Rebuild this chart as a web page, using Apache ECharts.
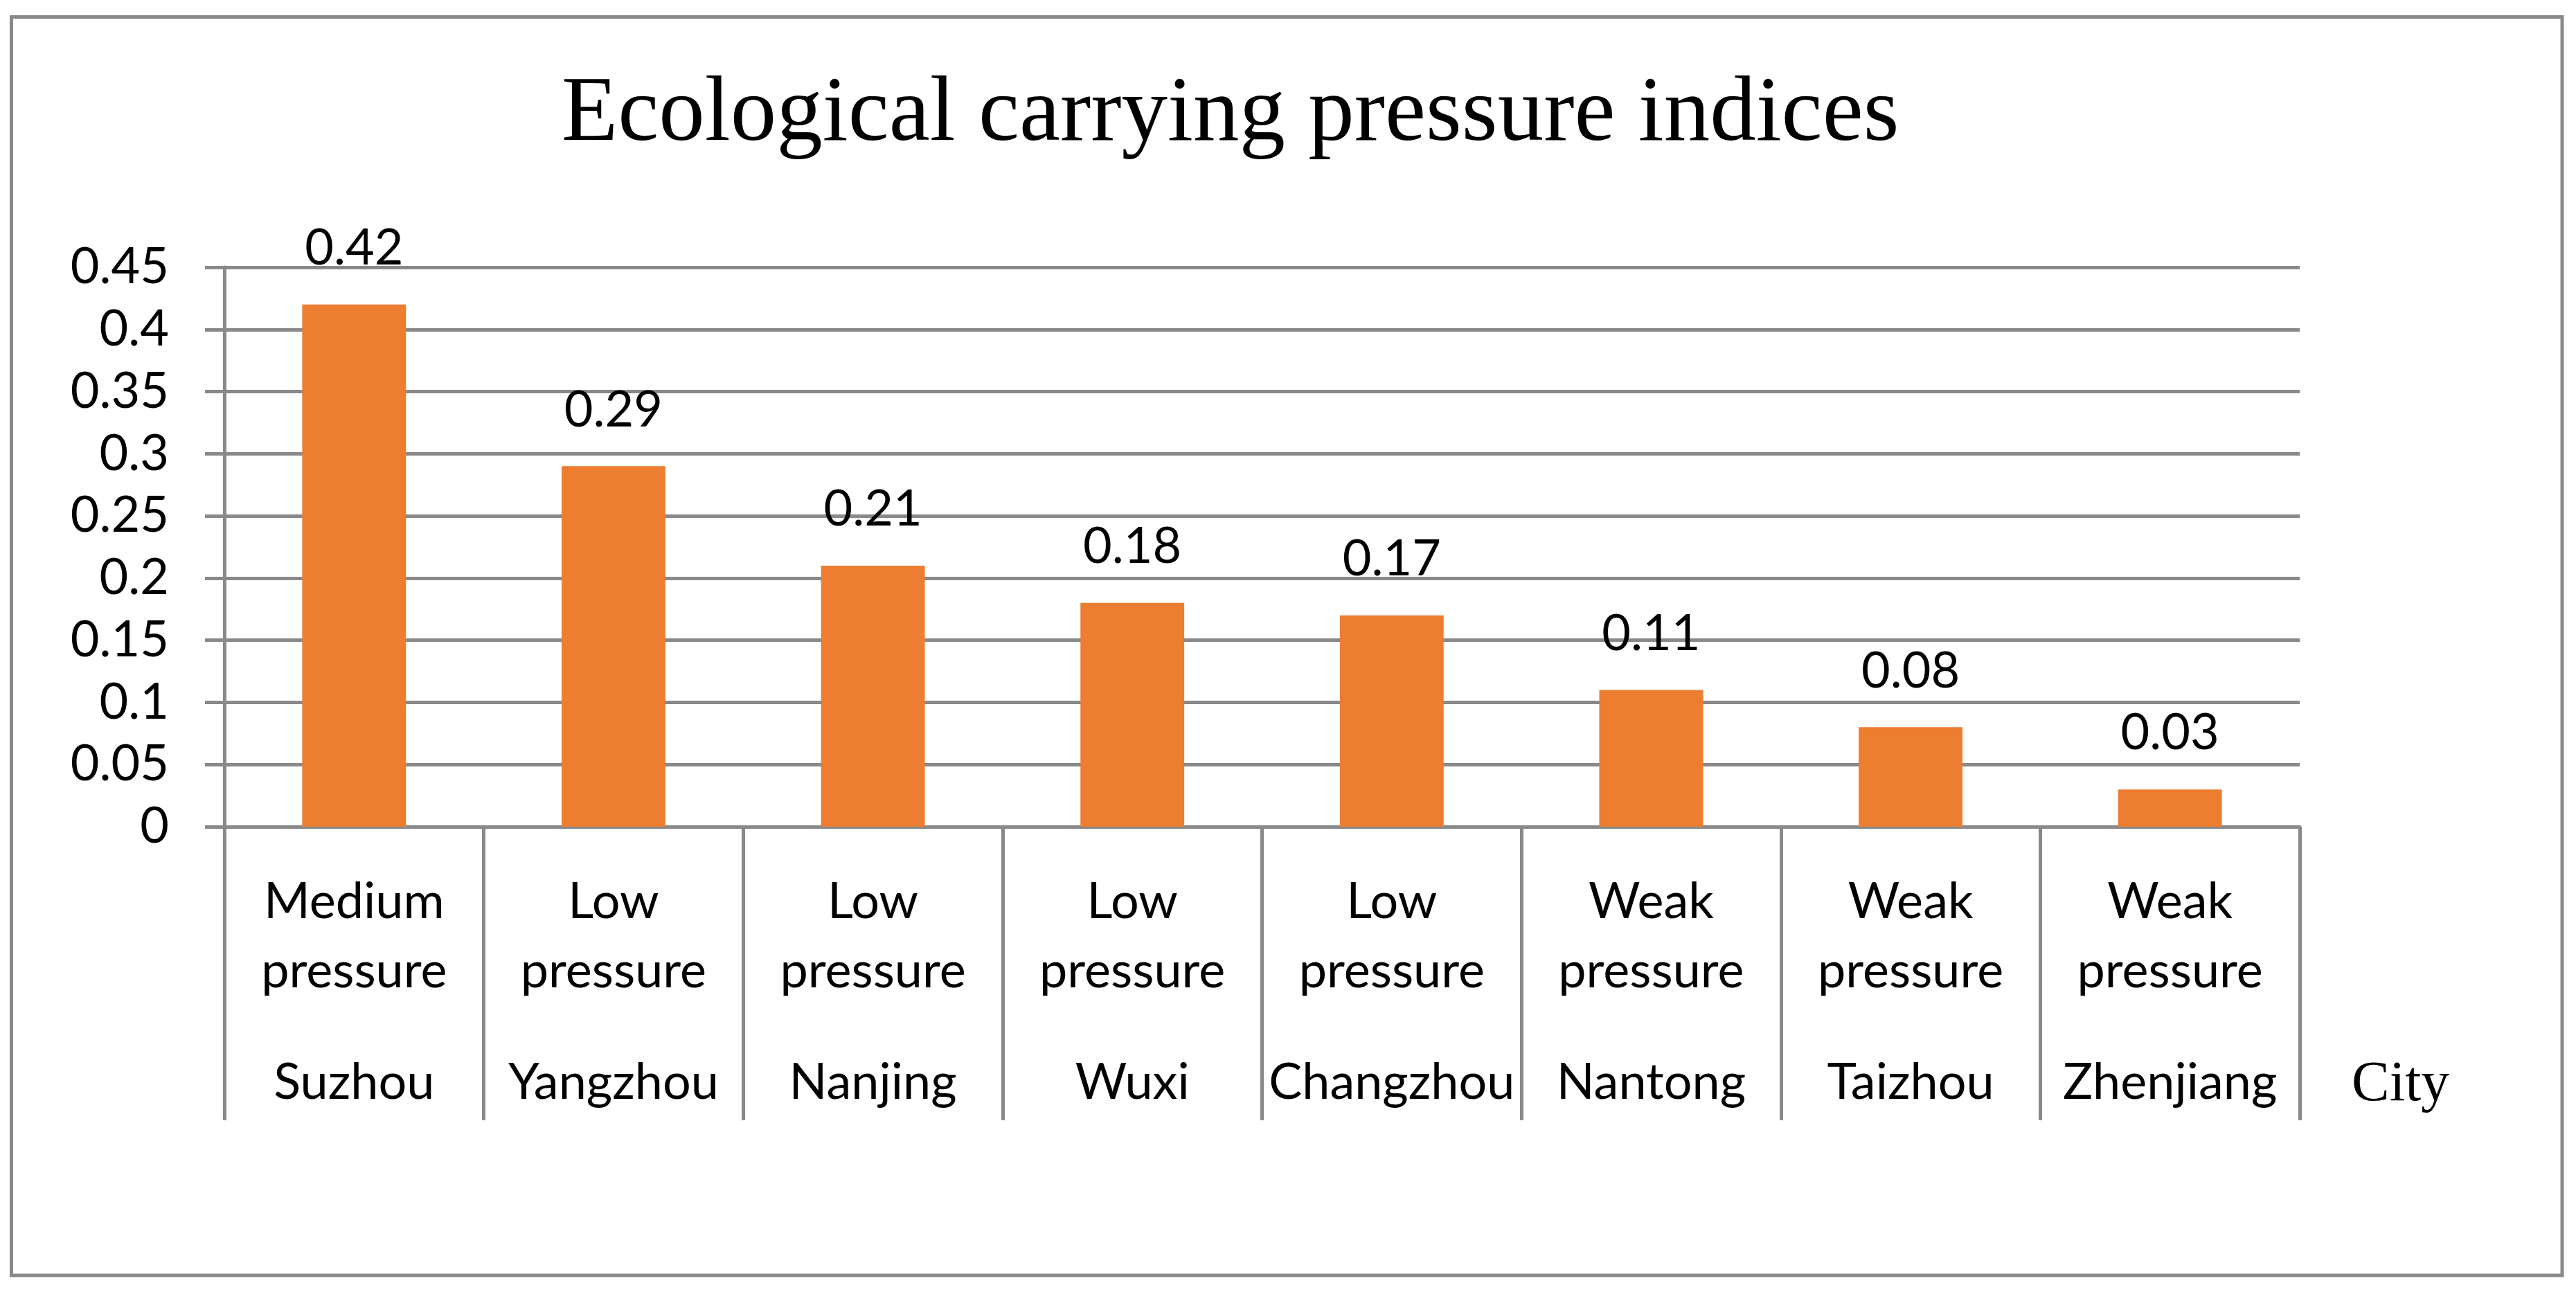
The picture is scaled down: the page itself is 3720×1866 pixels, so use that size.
<!DOCTYPE html>
<html>
<head>
<meta charset="utf-8">
<script src="https://cdn.jsdelivr.net/npm/echarts@6/dist/echarts.min.js"></script>
<style>
html,body{margin:0;padding:0;background:#fff;}
#chart{width:3720px;height:1866px;}
</style>
</head>
<body>
<div id="chart"></div>
<script>
const cities = ['Suzhou','Yangzhou','Nanjing','Wuxi','Changzhou','Nantong','Taizhou','Zhenjiang'];
const levels = ['Medium pressure','Low pressure','Low pressure','Low pressure','Low pressure','Weak pressure','Weak pressure','Weak pressure'];
const values = [0.42,0.29,0.21,0.18,0.17,0.11,0.08,0.03];
const yTicks = [0,0.05,0.1,0.15,0.2,0.25,0.3,0.35,0.4,0.45];

const GRAY = '#898989';
const chart = echarts.init(document.getElementById('chart'), null, {renderer:'canvas'});
chart.setOption({
  backgroundColor:'#fff',
  animation:false,
  title:{
    text:'Ecological carrying pressure indices',
    left:806, top:96,
    textStyle:{fontFamily:'Liberation Serif', fontWeight:'normal', fontSize:133, color:'#000'}
  },
  graphic:[{
    type:'rect', silent:true,
    shape:{x:16.5, y:24.5, width:3683.5, height:1817.5},
    style:{fill:'none', stroke:GRAY, lineWidth:5}
  }],
  grid:{left:324, right:399, top:386, bottom:672, containLabel:false},
  xAxis:{
    type:'category',
    data:cities,
    name:'City',
    nameLocation:'end',
    nameGap:75,
    nameTextStyle:{fontFamily:'Liberation Serif', fontSize:82, color:'#000', align:'left', verticalAlign:'top', padding:[332,0,0,0]},
    axisLine:{show:true, lineStyle:{color:GRAY, width:5}},
    axisTick:{show:true, length:424, interval:0, alignWithLabel:false, lineStyle:{color:GRAY, width:5}},
    axisLabel:{
      interval:0, margin:59, color:'#000',
      formatter:function(v, i){
        const parts = levels[i].split(' ');
        return parts.map(p => '{a|' + p + '}').join('\n') + '\n{c|' + v + '}';
      },
      rich:{
        a:{fontFamily:'Lato', fontSize:72, lineHeight:100, color:'#000'},
        c:{fontFamily:'Lato', fontSize:72, lineHeight:222, color:'#000'}
      }
    },
    splitLine:{show:false}
  },
  yAxis:{
    type:'value',
    min:yTicks[0], max:yTicks[yTicks.length-1], interval:0.05,
    axisLine:{show:true, lineStyle:{color:GRAY, width:5}},
    axisTick:{show:true, length:28, lineStyle:{color:GRAY, width:5}},
    axisLabel:{margin:80, fontFamily:'Lato', fontSize:72, color:'#000',
      formatter:function(v){ return String(+v.toFixed(2)); }},
    splitLine:{show:true, lineStyle:{color:GRAY, width:5}}
  },
  series:[{
    type:'bar',
    data:values,
    barCategoryGap:'60%',
    itemStyle:{color:'#ED7D31'},
    label:{show:true, position:'top', distance:45, fontFamily:'Lato', fontSize:72, color:'#000',
      formatter:function(p){ return String(p.value); }}
  }]
});
</script>
</body>
</html>
